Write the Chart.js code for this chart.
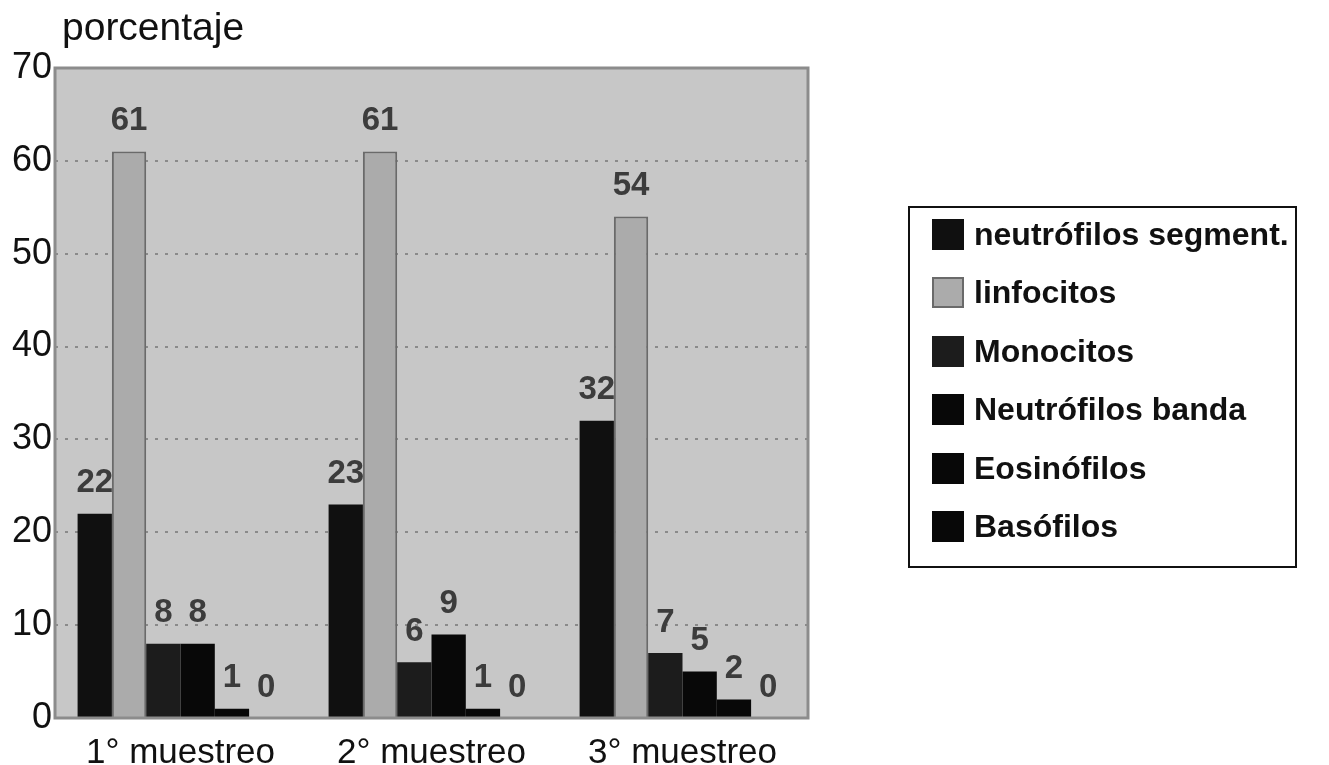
<!DOCTYPE html>
<html>
<head>
<meta charset="utf-8">
<script src="https://cdn.jsdelivr.net/npm/chart.js@4"></script>
<style>
  html, body { margin: 0; padding: 0; background: #fff; }
  #wrap { position: relative; width: 1329px; height: 765px; }
  #legend {
    position: absolute; left: 908px; top: 206px; width: 389px; height: 362px;
    box-sizing: border-box; border: 2px solid #111; padding: 0 0 0 22px;
    font-family: "Liberation Sans", Arial, sans-serif; font-weight: bold; font-size: 32px; color: #111;
  }
  #legend .row { display: flex; align-items: center; height: 58.5px; white-space: nowrap; }
  #legend .row:first-child { margin-top: -3px; }
  #legend .box { width: 32px; height: 31px; box-sizing: border-box; margin-right: 10px; flex: none; }
</style>
</head>
<body>
<div id="wrap">
  <canvas id="chart" width="1329" height="765"></canvas>
  <div id="legend"></div>
</div>
<script>
const muestreos = ['1° muestreo', '2° muestreo', '3° muestreo'];
const series = ['neutrófilos segment.', 'linfocitos', 'Monocitos', 'Neutrófilos banda', 'Eosinófilos', 'Basófilos'];
const segmentados = [22, 23, 32];
const linfocitos = [61, 61, 54];
const monocitos = [8, 6, 7];
const banda = [8, 9, 5];
const eosinofilos = [1, 1, 2];
const basofilos = [0, 0, 0];
const yTicks = [0, 10, 20, 30, 40, 50, 60, 70];

const fills = ['#101010', '#ababab', '#1c1c1c', '#080808', '#080808', '#080808'];
const borders = ['#101010', '#6a6a6a', '#1c1c1c', '#080808', '#080808', '#080808'];
const values = [segmentados, linfocitos, monocitos, banda, eosinofilos, basofilos];

// plot background + frame, axis title
const framePlugin = {
    id: 'frame',
    beforeDraw(chart) {
        const a = chart.chartArea, ctx = chart.ctx;
        ctx.save();
        ctx.fillStyle = '#c7c7c7';
        ctx.fillRect(a.left, a.top, a.right - a.left, a.bottom - a.top);
        ctx.restore();
    },
    afterDraw(chart) {
        const a = chart.chartArea, ctx = chart.ctx;
        ctx.save();
        ctx.strokeStyle = '#8c8c8c';
        ctx.lineWidth = 3;
        ctx.strokeRect(a.left, a.top, a.right - a.left, a.bottom - a.top);
        ctx.fillStyle = '#111';
        ctx.font = '39px "Liberation Sans", Arial, sans-serif';
        ctx.textBaseline = 'alphabetic';
        ctx.textAlign = 'left';
        ctx.fillText('porcentaje', a.left + 7, 40);
        ctx.restore();
    }
};

// value labels above each bar
const valueLabels = {
    id: 'valueLabels',
    afterDatasetsDraw(chart) {
        const ctx = chart.ctx;
        ctx.save();
        ctx.fillStyle = '#3c3c3c';
        ctx.font = 'bold 33px "Liberation Sans", Arial, sans-serif';
        ctx.textAlign = 'center';
        ctx.textBaseline = 'bottom';
        chart.data.datasets.forEach((ds, i) => {
            chart.getDatasetMeta(i).data.forEach((bar, j) => {
                ctx.fillText(String(ds.data[j]), bar.x, bar.y - 14);
            });
        });
        ctx.restore();
    }
};

const chart = new Chart(document.getElementById('chart').getContext('2d'), {
    type: 'bar',
    data: {
        labels: muestreos,
        datasets: series.map((name, i) => ({
            label: name,
            data: values[i],
            backgroundColor: fills[i],
            borderColor: borders[i],
            borderWidth: i === 1 ? 2 : 0,
            categoryPercentage: 0.82,
            barPercentage: 1
        }))
    },
    options: {
        responsive: false,
        animation: false,
        layout: { padding: { left: 8, right: 521, top: 68, bottom: 0 } },
        plugins: { legend: { display: false }, tooltip: { enabled: false } },
        scales: {
            x: {
                grid: { display: false },
                border: { display: false },
                ticks: { color: '#111', padding: 6, font: { size: 35, family: '"Liberation Sans", Arial, sans-serif' } },
                afterFit(scale) { scale.height = 47; }
            },
            y: {
                min: 0,
                max: 70,
                afterBuildTicks(scale) { scale.ticks = yTicks.map(v => ({ value: v })); },
                ticks: { color: '#111', padding: 3, font: { size: 36, family: '"Liberation Sans", Arial, sans-serif' } },
                grid: {
                    drawTicks: false,
                    lineWidth: 2,
                    color: c => (c.tick && (c.tick.value === 0 || c.tick.value === 70)) ? 'rgba(0,0,0,0)' : '#8a8a8a'
                },
                border: { display: false, dash: [3, 7] },
                afterFit(scale) { scale.width = 47; }
            }
        }
    },
    plugins: [framePlugin, valueLabels]
});

// legend box built from the datasets
const legend = document.getElementById('legend');
chart.data.datasets.forEach(ds => {
    const row = document.createElement('div');
    row.className = 'row';
    const box = document.createElement('span');
    box.className = 'box';
    box.style.background = ds.backgroundColor;
    box.style.border = ds.borderWidth ? '2px solid ' + ds.borderColor : 'none';
    row.appendChild(box);
    row.appendChild(document.createTextNode(ds.label));
    legend.appendChild(row);
});
</script>
</body>
</html>
